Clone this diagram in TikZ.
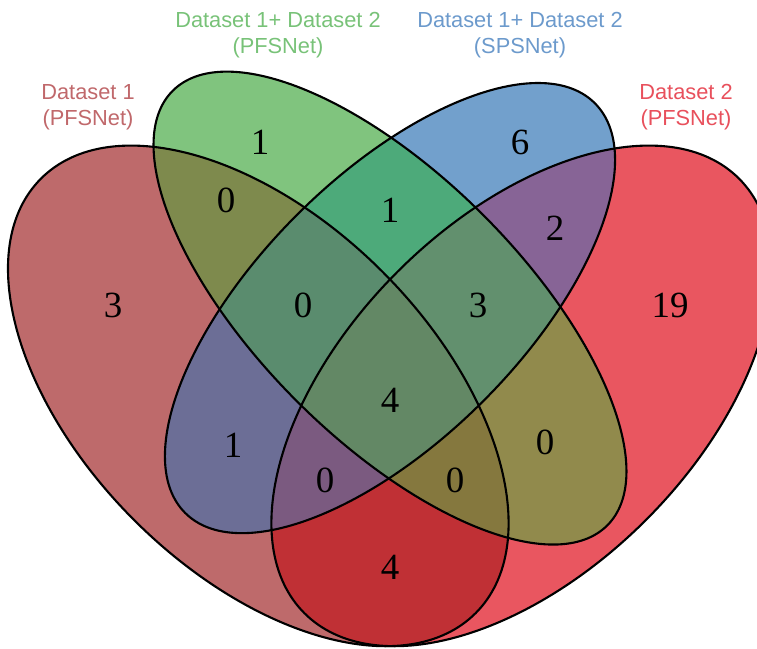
\documentclass[tikz,border=0pt]{standalone}
\usepackage{fontspec}
\setmainfont{Liberation Serif}
\newfontfamily\labfont{Liberation Sans}
\definecolor{cA}{RGB}{190,106,107}
\definecolor{cB}{RGB}{128,196,126}
\definecolor{cC}{RGB}{114,160,204}
\definecolor{cD}{RGB}{233,86,96}
\definecolor{cAB}{RGB}{126,138,77}
\definecolor{cBC}{RGB}{77,170,122}
\definecolor{cCD}{RGB}{135,100,150}
\definecolor{cAC}{RGB}{108,110,150}
\definecolor{cBD}{RGB}{145,138,76}
\definecolor{cAD}{RGB}{192,48,53}
\definecolor{cABC}{RGB}{90,140,110}
\definecolor{cBCD}{RGB}{98,144,110}
\definecolor{cACD}{RGB}{123,90,128}
\definecolor{cABD}{RGB}{133,120,62}
\definecolor{cABCD}{RGB}{99,136,101}
\definecolor{tA}{RGB}{192,104,107}
\definecolor{tB}{RGB}{120,194,120}
\definecolor{tC}{RGB}{108,154,204}
\definecolor{tD}{RGB}{232,80,92}
\newcommand\ellA{(258.3,253.1) ellipse [x radius=307.3, y radius=175.6, rotate=-45]}
\newcommand\ellB{(390,340.9) ellipse [x radius=307.3, y radius=131.7, rotate=-45]}
\newcommand\ellC{(390,340.9) ellipse [x radius=289.7, y radius=131.7, rotate=45]}
\newcommand\ellD{(521.7,253.1) ellipse [x radius=307.3, y radius=175.6, rotate=45]}
\newcommand\rg[2]{\begin{scope}#2\fill[#1] (-10,-10) rectangle (770,660);\end{scope}}
\begin{document}
\begin{tikzpicture}[x=0.01cm,y=0.01cm,
  num/.style={font=\fontsize{10.5}{12}\selectfont, inner sep=0pt},
  lab/.style={font=\labfont\fontsize{6.2}{7.4}\selectfont, align=center, inner sep=0pt},
  outline/.style={draw=black, line width=0.6pt}]
\useasboundingbox (0,0) rectangle (757,649);
% single sets
\rg{cA}{\clip\ellA;}
\rg{cB}{\clip\ellB;}
\rg{cC}{\clip\ellC;}
\rg{cD}{\clip\ellD;}
% pairs
\rg{cAB}{\clip\ellA;\clip\ellB;}
\rg{cBC}{\clip\ellB;\clip\ellC;}
\rg{cCD}{\clip\ellC;\clip\ellD;}
\rg{cAC}{\clip\ellA;\clip\ellC;}
\rg{cBD}{\clip\ellB;\clip\ellD;}
\rg{cAD}{\clip\ellA;\clip\ellD;}
% triples
\rg{cABC}{\clip\ellA;\clip\ellB;\clip\ellC;}
\rg{cBCD}{\clip\ellB;\clip\ellC;\clip\ellD;}
\rg{cACD}{\clip\ellA;\clip\ellC;\clip\ellD;}
\rg{cABD}{\clip\ellA;\clip\ellB;\clip\ellD;}
% all
\rg{cABCD}{\clip\ellA;\clip\ellB;\clip\ellC;\clip\ellD;}
% outlines
\draw[outline] \ellA;
\draw[outline] \ellB;
\draw[outline] \ellC;
\draw[outline] \ellD;
% counts
\node[num] (nA) at (113,344) {3};
\node[num] (nB) at (260,507) {1};
\node[num] (nC) at (520,507) {6};
\node[num] (nD) at (670,344) {19};
\node[num] (nAB) at (226,449) {0};
\node[num] (nBC) at (390,439) {1};
\node[num] (nCD) at (555,421) {2};
\node[num] (nABC) at (303,344) {0};
\node[num] (nBCD) at (478,344) {3};
\node[num] (nABCD) at (390,249) {4};
\node[num] (nAC) at (233,204) {1};
\node[num] (nBD) at (545,207) {0};
\node[num] (nACD) at (325,169) {0};
\node[num] (nABD) at (455,169) {0};
\node[num] (nAD) at (390,82) {4};
% labels
\node[lab, text=tA] (lA) at (88,542) {Dataset 1\\(PFSNet)};
\node[lab, text=tB] (lB) at (278,614) {Dataset 1+ Dataset 2\\(PFSNet)};
\node[lab, text=tC] (lC) at (520,614) {Dataset 1+ Dataset 2\\(SPSNet)};
\node[lab, text=tD] (lD) at (686,542) {Dataset 2\\(PFSNet)};
\end{tikzpicture}
\end{document}
